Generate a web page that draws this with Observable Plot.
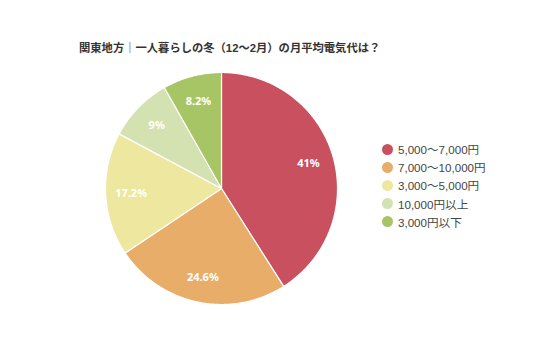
<!DOCTYPE html>
<html><head><meta charset="utf-8">
<script src="https://cdn.jsdelivr.net/npm/d3@7"></script>
<script src="https://cdn.jsdelivr.net/npm/@observablehq/plot@0.6"></script>
<style>
body{margin:0;background:#fff;font-family:"Liberation Sans","Noto Sans CJK JP",sans-serif;}
#wrap{position:relative;width:536px;height:357px;}
#title{position:absolute;left:79px;top:39px;font-size:11.3px;font-weight:bold;color:#333;white-space:nowrap;}
#legend{position:absolute;left:382px;top:140px;font-size:11.6px;color:#444;}
.li{display:flex;align-items:center;height:18.2px;white-space:nowrap;}
.sw{width:11px;height:11px;border-radius:50%;margin-right:5px;}
#chart{position:absolute;left:0;top:0;}
</style></head>
<body><div id="wrap"><div id="chart"></div><div id="title"></div><div id="legend"></div></div>
<script>
const titleText = "関東地方｜一人暮らしの冬（12〜2月）の月平均電気代は？";
const categories = ["5,000〜7,000円","7,000〜10,000円","3,000〜5,000円","10,000円以上","3,000円以下"];
const values = [41, 24.6, 17.2, 9, 8.2];
const labels = ["41%","24.6%","17.2%","9%","8.2%"];
const colors = ["#c8505f","#e8ad68","#ede7a0","#d3e2b0","#a7c564"];

document.getElementById("title").textContent = titleText;

const arcs = d3.pie().sort(null).value(d => d.value)(categories.map((c,i)=>({category:c,value:values[i],label:labels[i],color:colors[i]})));
const pts = [];
arcs.forEach(a => {
  const n = Math.max(2, Math.ceil((a.endAngle - a.startAngle) / 0.01));
  pts.push({cat:a.data.category, x:0, y:0});
  for (let k=0;k<=n;k++){
    const t = a.startAngle + (a.endAngle - a.startAngle)*k/n;
    pts.push({cat:a.data.category, x:Math.sin(t), y:Math.cos(t)});
  }
});
const lab = arcs.map(a => {const m=(a.startAngle+a.endAngle)/2; return {label:a.data.label, x:0.78*Math.sin(m), y:0.78*Math.cos(m)};});

const chart = Plot.plot({
  width:536, height:357, margin:0,
  x:{domain:[-1,1], range:[105,337], axis:null},
  y:{domain:[-1,1], range:[304,72], axis:null},
  color:{domain:categories, range:colors},
  marks:[
    Plot.line(pts, {x:"x", y:"y", z:"cat", fill:"cat", stroke:"#fff", strokeWidth:1.2, curve:"linear-closed"}),
    Plot.text(lab, {x:"x", y:"y", text:"label", fill:"#fff", fontSize:11, fontWeight:"bold"})
  ]
});
document.getElementById("chart").appendChild(chart);

const leg = document.getElementById("legend");
categories.forEach((c,i)=>{
  const d=document.createElement("div");d.className="li";
  const s=document.createElement("span");s.className="sw";s.style.background=colors[i];
  const t=document.createElement("span");t.textContent=c;
  d.appendChild(s);d.appendChild(t);leg.appendChild(d);
});
</script></body></html>
